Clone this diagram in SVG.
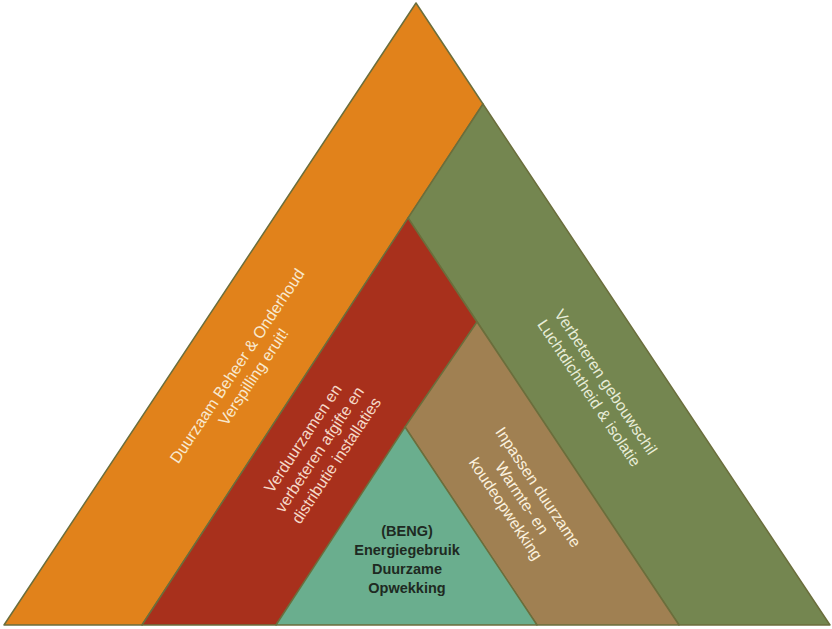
<svg xmlns="http://www.w3.org/2000/svg" width="832" height="629" viewBox="0 0 832 629">
<style>
.seg{stroke:#6B6E3C;stroke-width:1.5;stroke-linejoin:round}
.lt{font-family:"Liberation Sans",Arial,sans-serif;font-size:16px;text-anchor:middle;fill:#F8E9CF}
.dk{font-family:"Liberation Sans",Arial,sans-serif;font-size:14.5px;font-weight:bold;text-anchor:middle;fill:#1E2A22}
</style>
<rect width="832" height="629" fill="#FFFFFF"/>
<g id="orange">
<polygon class="seg" fill="#E1821B" points="416,3 483,104 142,625 4,625"/>
<text class="lt" transform="translate(245.5,371.5) rotate(-56.4)"><tspan x="0" y="-4.5">Duurzaam Beheer &amp; Onderhoud</tspan><tspan x="0" y="15">Verspilling eruit!</tspan></text>
</g>
<g id="green">
<polygon class="seg" fill="#748650" points="483,104 830,625 679,625 408,218"/>
<text class="lt" fill="#E8EDD9" style="fill:#E8EDD9" transform="translate(597.5,387.5) rotate(56.3)"><tspan x="0" y="-4.5">Verbeteren gebouwschil</tspan><tspan x="0" y="15.5">Luchtdichtheid &amp; isolatie</tspan></text>
</g>
<g id="red">
<polygon class="seg" fill="#A8301C" points="408,218 477,322 276,625 142,625"/>
<text class="lt" style="fill:#F5D9C8" transform="translate(319.5,449.5) rotate(-56.4)"><tspan x="0" y="-14.5">Verduurzamen en</tspan><tspan x="0" y="5.5">verbeteren afgifte en</tspan><tspan x="0" y="25.5">distributie installaties</tspan></text>
</g>
<g id="brown">
<polygon class="seg" fill="#A08052" points="477,322 679,625 537,625 405,427"/>
<text class="lt" style="fill:#FBF1DE" transform="translate(522,498) rotate(56.3)"><tspan x="0" y="-14">Inpassen duurzame</tspan><tspan x="0" y="5.5">Warmte- en</tspan><tspan x="0" y="25">koudeopwekking</tspan></text>
</g>
<g id="teal">
<polygon class="seg" fill="#6AAE8E" points="405,427 537,625 276,625"/>
<text class="dk"><tspan x="407" y="536">(BENG)</tspan><tspan x="407" y="555">Energiegebruik</tspan><tspan x="407" y="574">Duurzame</tspan><tspan x="407" y="593">Opwekking</tspan></text>
</g>
<g id="connectors"></g>
</svg>
